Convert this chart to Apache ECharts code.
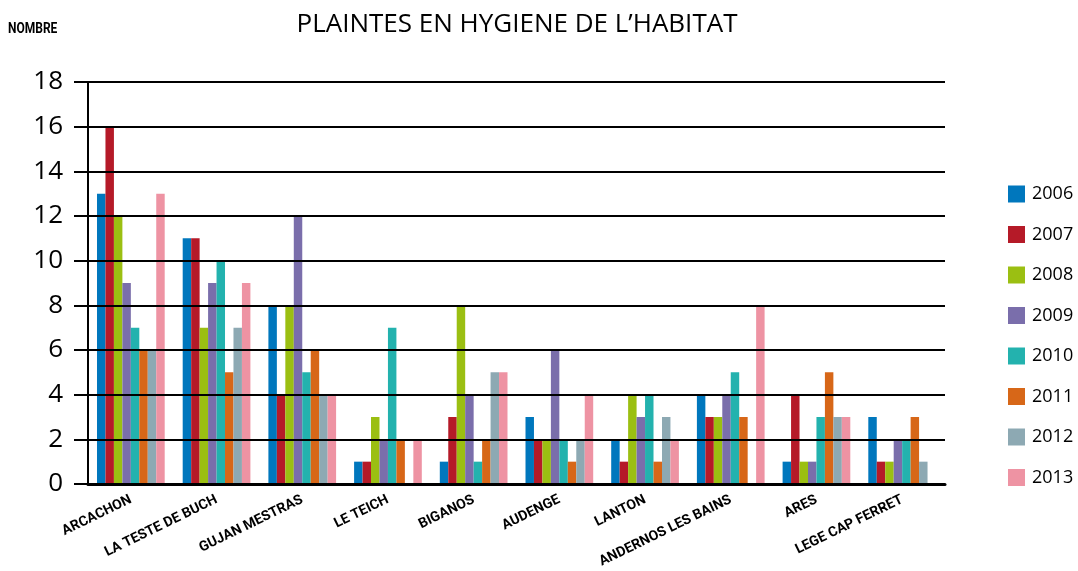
<!DOCTYPE html>
<html>
<head>
<meta charset="utf-8">
<script src="https://cdn.jsdelivr.net/npm/echarts@6/dist/echarts.min.js"></script>
<style>
  html, body { margin: 0; padding: 0; background: #fff; }
  #chart { width: 1078px; height: 571px; }
</style>
</head>
<body>
<div id="chart"></div>
<script>
// Communes du bassin
const communes = ['ARCACHON', 'LA TESTE DE BUCH', 'GUJAN MESTRAS', 'LE TEICH', 'BIGANOS',
  'AUDENGE', 'LANTON', 'ANDERNOS LES BAINS', 'ARES', 'LEGE CAP FERRET'];

// Nombre de plaintes par année, dans l'ordre des communes
const y2006 = [13, 11, 8, 1, 1, 3, 2, 4, 1, 3];
const y2007 = [16, 11, 4, 1, 3, 2, 1, 3, 4, 1];
const y2008 = [12, 7, 8, 3, 8, 2, 4, 3, 1, 1];
const y2009 = [9, 9, 12, 2, 4, 6, 3, 4, 1, 2];
const y2010 = [7, 10, 5, 7, 1, 2, 4, 5, 3, 2];
const y2011 = [6, 5, 6, 2, 2, 1, 1, 3, 5, 3];
const y2012 = [6, 7, 4, 0, 5, 2, 3, 0, 3, 1];
const y2013 = [13, 9, 4, 2, 5, 4, 2, 8, 3, 0];

const years = ['2006', '2007', '2008', '2009', '2010', '2011', '2012', '2013'];
const valuesByYear = [y2006, y2007, y2008, y2009, y2010, y2011, y2012, y2013];
const colors = ['#0077BD', '#B51A28', '#9BBF12', '#7A6EAB', '#23B2AE', '#D76718', '#8DA9B3', '#EE93A3'];

const narrow = '"Liberation Sans Narrow", Roboto, sans-serif';

const chart = echarts.init(document.getElementById('chart'));
chart.setOption({
  animation: false,
  color: colors,
  title: {
    text: 'PLAINTES EN HYGIENE DE L\u2019HABITAT',
    left: 512, top: 7, textAlign: 'center',
    textStyle: { fontFamily: '"Open Sans", sans-serif', fontSize: 26, fontWeight: 'normal', color: '#000' }
  },
  graphic: [{
    type: 'text',
    left: 8, top: 22,
    scaleX: 0.8,
    style: { text: 'NOMBRE', font: 'bold 15px Roboto, sans-serif', fill: '#000' }
  }],
  legend: {
    orient: 'vertical',
    left: 1003, top: 180,
    itemWidth: 17, itemHeight: 17, itemGap: 22.5,
    icon: 'rect',
    textStyle: { fontFamily: '"Open Sans", sans-serif', fontSize: 18, color: '#000', padding: [0, 0, 0, 2] },
    data: years
  },
  grid: { left: 88, right: 133, top: 82, bottom: 87, containLabel: false },
  xAxis: {
    type: 'category',
    data: communes,
    axisLine: { show: true, lineStyle: { color: '#000', width: 3 } },
    axisTick: { show: false },
    axisLabel: {
      interval: 0, rotate: 26, margin: 15,
      fontFamily: narrow, fontSize: 14, fontWeight: 'bold', color: '#000'
    }
  },
  yAxis: {
    type: 'value',
    min: 0, max: 18, interval: 2,
    z: 10,
    axisLine: { show: true, lineStyle: { color: '#000', width: 2 } },
    axisTick: { show: true, length: 14, lineStyle: { color: '#000', width: 2 } },
    axisLabel: { margin: 25, fontFamily: '"Open Sans", sans-serif', fontSize: 26, color: '#000' },
    splitLine: { show: true, lineStyle: { color: '#000', width: 2 } }
  },
  series: years.map((y, i) => ({
    name: y,
    type: 'bar',
    data: valuesByYear[i],
    barGap: '0%',
    barCategoryGap: '21%',
    itemStyle: { color: colors[i] }
  }))
});
</script>
</body>
</html>
